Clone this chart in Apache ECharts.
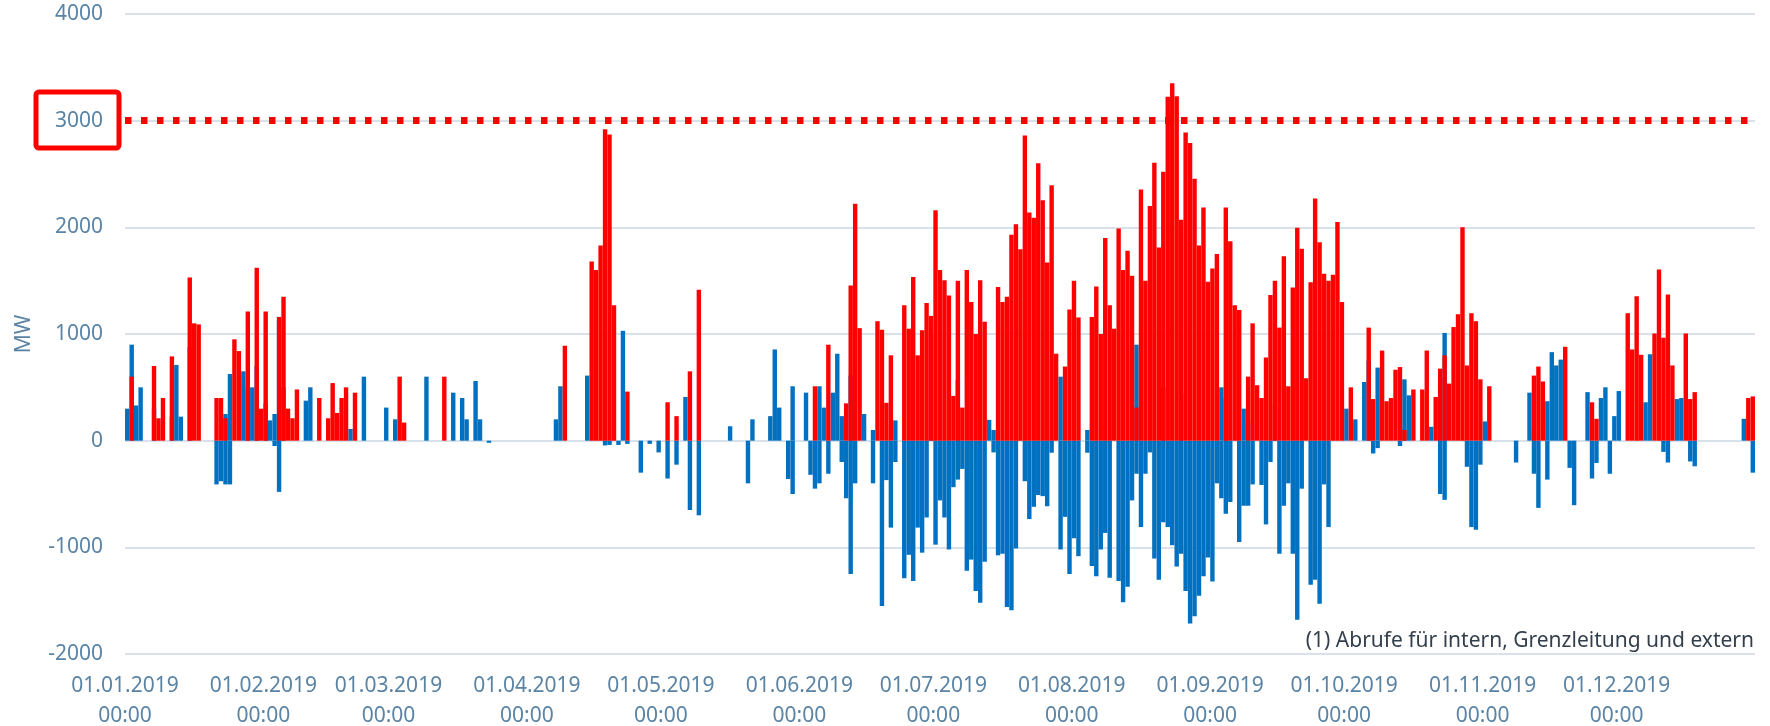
<!DOCTYPE html>
<html>
<head>
<meta charset="utf-8">
<script src="https://cdn.jsdelivr.net/npm/echarts@6/dist/echarts.min.js"></script>
<style>
html,body{margin:0;padding:0;background:#fff;}
#chart{width:1770px;height:726px;}
</style>
</head>
<body>
<div id="chart"></div>
<script>
// x positions are day-of-year (0 = 01.01.2019)
const monthStartDays = [0,31,59,90,120,151,181,212,243,273,304,334];
const monthLabels = ['01.01.2019','01.02.2019','01.03.2019','01.04.2019','01.05.2019','01.06.2019',
  '01.07.2019','01.08.2019','01.09.2019','01.10.2019','01.11.2019','01.12.2019'];
const timeLabel = '00:00';
const yTicks = [-2000,-1000,0,1000,2000,3000,4000];
const limitValue = 3000;
const footnote = '(1) Abrufe für intern, Grenzleitung und extern';
const axisName = 'MW';

// red: positive calls
const redData = [
 [1,600],[6,700],[7,210],[8,400],[10,790],[14,1530],[15,1100],[16,1090],[20,400],[21,400],[22,210],[24,950],[25,840],[27,1210],[29,1620],[30,300],[31,1210],[34,1160],[35,1350],[36,300],[37,210],[38,480],[43,400],[45,210],[46,540],[47,260],[48,400],[49,500],[51,450],[61,600],[62,170],[71,600],
 [98,890],[104,1680],[105,1600],[106,1830],[107,2920],[108,2870],[109,1270],[112,460],[121,360],[123,230],[126,650],[128,1415],
 [154,510],[157,900],[161,350],[162,1455],[163,2220],[164,1055],[168,1120],[169,1040],[170,355],[171,800],
 [174,1270],[175,1050],[176,1535],[177,800],[178,1035],[179,1290],[180,1170],[181,2160],[182,1600],[183,1505],[184,1360],[185,420],[186,1500],[187,310],[188,1600],[189,1300],[190,1000],[191,1505],[192,1115],[195,1440],[196,1300],[197,1350],[198,1930],[199,2030],[200,1795],[201,2860],[202,2140],[203,2090],[204,2600],[205,2255],[206,1670],[207,2395],[208,815],[210,695],[211,1230],[212,1500],[213,1155],[216,1160],[217,1445],[218,1000],[219,1900],[220,1270],[221,1050],[222,1990],
 [223,1600],[224,1780],[225,1545],[226,310],[227,2355],[228,1500],[229,2200],[230,2605],[231,1810],[232,2520],[233,3225],[234,3350],[235,3230],[236,2070],[237,2890],[238,2790],[239,2455],[240,1830],[241,2185],[242,1490],[243,1615],[244,1750],[246,2185],[247,1870],[248,1270],[249,1225],[251,600],[252,1100],[253,520],[254,400],[255,780],[256,1365],[257,1500],[258,1060],[259,1730],[260,510],[261,1435],[262,1995],[263,1800],[264,585],[265,1485],[266,2270],[267,1860],[268,1565],[269,1500],[270,1555],[271,2050],[272,1300],[274,500],
 [278,1060],[279,390],[281,845],[282,370],[283,400],[284,665],[285,690],[286,100],[288,480],[290,480],[291,845],[293,410],[294,675],[295,800],[296,535],[297,1065],[298,1185],[299,2000],[300,705],[301,1195],[302,1120],[303,575],[305,510],[315,610],[316,695],[317,555],[322,880],[328,360],[329,205],[336,1195],[337,855],[338,1355],[339,805],[342,1005],[343,1605],[344,965],[345,1370],[346,705],[349,1005],[350,390],[351,455],[363,400],[364,415]
];

// blue: positive part
const bluePosData = [
 [0,300],[1,900],[2,330],[3,500],[6,300],[10,220],[11,710],[12,225],[14,875],[22,250],[23,625],[26,650],[27,500],[28,500],[29,700],[31,350],[32,190],[33,250],[34,1130],[35,500],[40,375],[41,500],[50,110],[53,600],[58,310],[60,200],[67,600],[73,450],[75,400],[76,200],[78,560],[79,200],
 [96,200],[97,510],[103,610],[111,1030],[125,410],[135,135],[140,200],[144,230],[145,855],[146,310],[149,510],[152,450],[155,510],[156,310],[158,450],[159,815],[160,230],[162,610],[165,250],[167,100],
 [172,190],[180,1000],[186,570],[193,195],[194,100],[209,600],[215,100],
 [226,900],[232,500],[236,445],[245,500],[246,400],[250,300],[251,195],[257,330],[273,300],[275,200],
 [277,550],[278,750],[280,685],[286,575],[287,425],[292,130],[294,575],[295,1010],[304,180],[314,450],[315,105],[318,370],[319,830],[320,705],[321,760],[327,455],[330,400],[331,500],[333,230],[334,465],[340,360],[341,810],[347,390],[348,400],[362,205]
];

// blue: negative part
const blueNegData = [
 [20,-410],[21,-380],[22,-410],[23,-410],[33,-50],[34,-480],
 [81,-20],[107,-45],[108,-40],[110,-40],[112,-30],[115,-300],[117,-30],[119,-110],[121,-355],[123,-225],[126,-650],[128,-700],[139,-400],[148,-360],[149,-500],[153,-320],[154,-450],[155,-400],[157,-310],[160,-200],[161,-540],[162,-1250],[163,-400],[167,-400],[169,-1550],
 [170,-370],[171,-815],[172,-200],[174,-1290],[175,-1070],[176,-1315],[177,-815],[178,-1050],[179,-720],[181,-975],[182,-560],[183,-720],[184,-1020],[185,-436],[186,-365],[187,-265],[188,-1220],[189,-1115],[190,-1410],[191,-1520],[192,-1135],[194,-110],[195,-1075],[196,-1060],[197,-1560],[198,-1590],[199,-1010],[201,-380],[202,-735],[203,-620],[204,-510],[205,-520],[206,-615],[207,-113],[209,-1020],[210,-714],[211,-1250],[212,-915],[213,-1083],[215,-113],[216,-1175],[217,-1270],[218,-1020],[219,-865],[220,-1285],[222,-1315],
 [223,-1515],[224,-1370],[225,-560],[226,-310],[227,-810],[228,-310],[229,-110],[230,-1105],[231,-1305],[232,-765],[233,-810],[234,-980],[235,-1180],[236,-1060],[237,-1410],[238,-1715],[239,-1645],[240,-1455],[241,-1270],[242,-1095],[243,-1320],[244,-400],[245,-540],[246,-685],[247,-575],[249,-950],[250,-610],[251,-610],[252,-410],[254,-415],[255,-785],[256,-200],[258,-1060],[259,-610],[260,-400],[261,-1060],[262,-1680],[263,-450],[265,-1350],[266,-1305],[267,-1530],[268,-410],[269,-810],
 [279,-120],[280,-70],[285,-50],[294,-500],[295,-555],[300,-245],[301,-810],[302,-835],[303,-225],[311,-205],[315,-310],[316,-630],[318,-365],[323,-255],[324,-605],[328,-355],[329,-209],[332,-310],[344,-105],[345,-205],[350,-195],[351,-240],[364,-300]
];

const FONT = '"Noto Sans", "Open Sans", sans-serif';
const LABEL_COLOR = '#5a83a4';
const BAR_W = 4.4;
const toXY = arr => arr.map(([d, v]) => [d + 0.5, v]);

const chart = echarts.init(document.getElementById('chart'), null, {renderer: 'canvas'});
chart.setOption({
  animation: false,
  backgroundColor: '#ffffff',
  grid: {left: 125, right: 15, top: 14, bottom: 72, containLabel: false, outerBoundsMode: 'none'},
  xAxis: {
    type: 'value', min: 0, max: 365,
    axisLine: {show: false}, axisTick: {show: false}, splitLine: {show: false},
    axisLabel: {
      customValues: monthStartDays,
      showMinLabel: true, showMaxLabel: true,
      color: LABEL_COLOR, fontSize: 21, fontFamily: FONT, lineHeight: 30, margin: 17,
      formatter: v => {
        const i = monthStartDays.indexOf(v);
        return i >= 0 ? monthLabels[i] + '\n' + timeLabel : '';
      }
    }
  },
  yAxis: {
    type: 'value', min: yTicks[0], max: yTicks[yTicks.length - 1], interval: 1000,
    name: axisName, nameLocation: 'middle', nameGap: 90,
    nameTextStyle: {color: LABEL_COLOR, fontSize: 21, fontFamily: FONT},
    axisLine: {show: false}, axisTick: {show: false},
    splitLine: {lineStyle: {color: '#d9e2eb', width: 2}},
    axisLabel: {color: LABEL_COLOR, fontSize: 21, fontFamily: FONT, margin: 22,
                formatter: v => String(v)}
  },
  series: [
    {type: 'bar', name: 'blue+', data: toXY(bluePosData), barWidth: BAR_W, barGap: '-100%',
     itemStyle: {color: '#0070c0'}},
    {type: 'bar', name: 'blue-', data: toXY(blueNegData), barWidth: BAR_W, barGap: '-100%',
     itemStyle: {color: '#0070c0'}},
    {type: 'bar', name: 'red', data: toXY(redData), barWidth: BAR_W, barGap: '-100%',
     itemStyle: {color: '#ff0000'},
     markLine: {
       silent: true, symbol: ['none', 'none'], label: {show: false},
       lineStyle: {color: '#ff0000', width: 7, type: [6.5, 9.5], cap: 'butt'},
       data: [{yAxis: limitValue}]
     }}
  ],
  graphic: [
    {type: 'rect', shape: {x: 36, y: 92, width: 83, height: 56, r: 3},
     style: {fill: 'none', stroke: '#ff0000', lineWidth: 5}, z: 100},
    {type: 'text', x: 1754, y: 641,
     style: {text: footnote, fill: '#333f4c', fontSize: 21, fontFamily: FONT,
             textAlign: 'right', textVerticalAlign: 'middle', align: 'right', verticalAlign: 'middle'}, z: 100}
  ]
});
</script>
</body>
</html>
